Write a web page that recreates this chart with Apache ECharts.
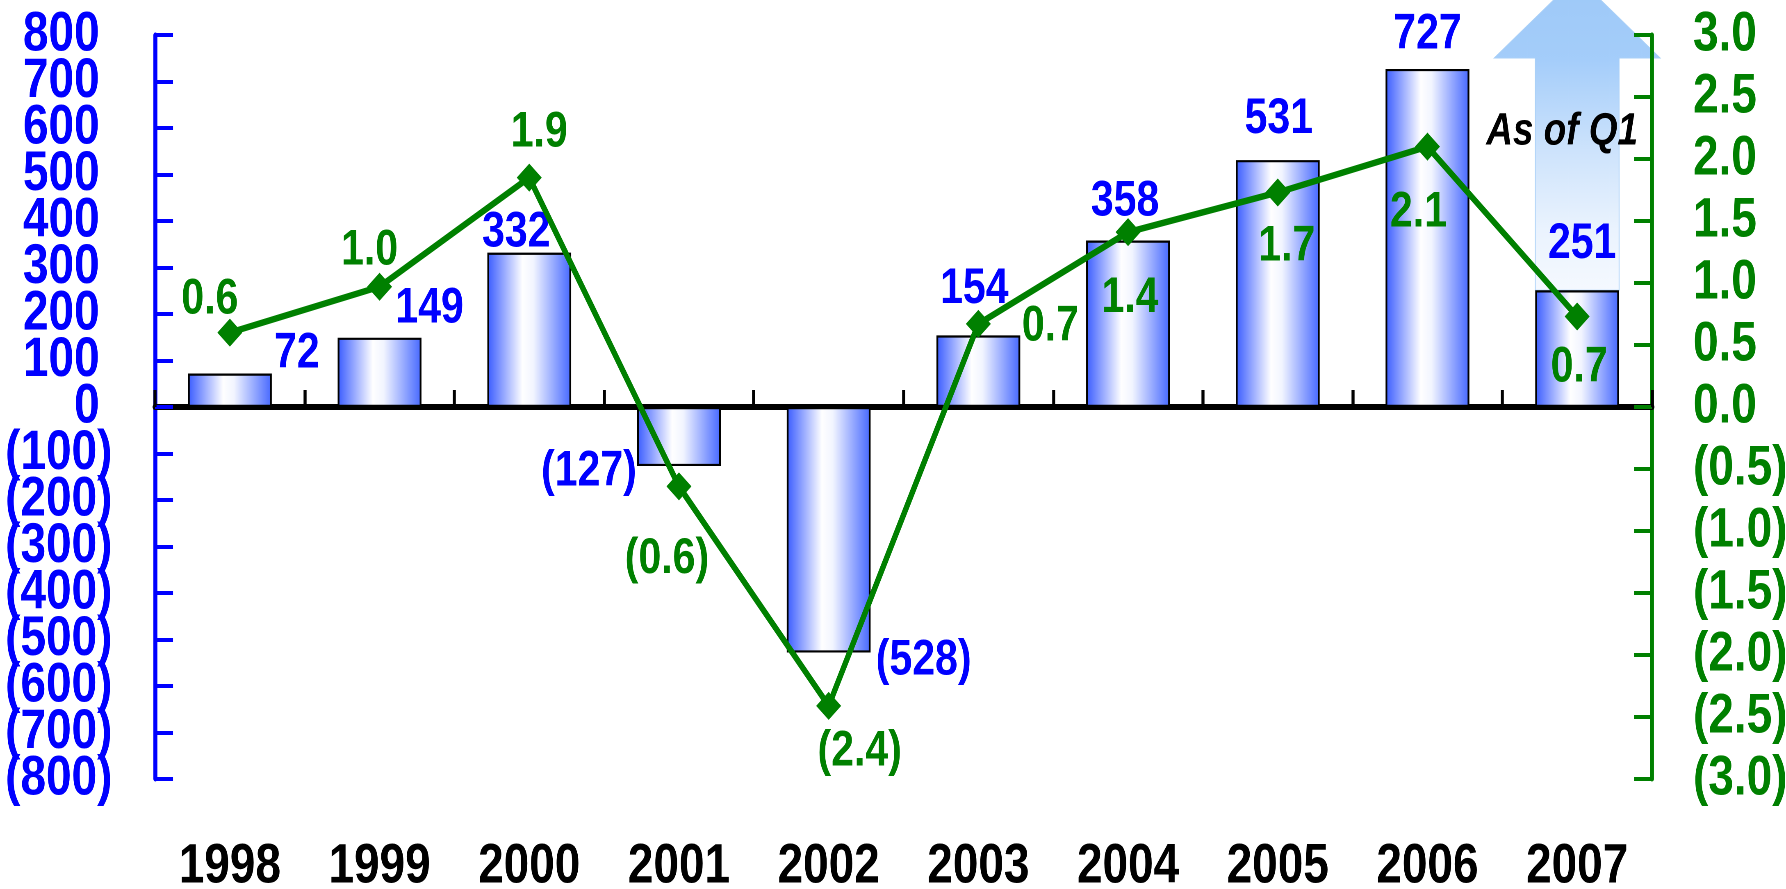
<!DOCTYPE html>
<html>
<head>
<meta charset="utf-8">
<script src="https://cdn.jsdelivr.net/npm/echarts@6/dist/echarts.min.js"></script>
<style>
  html, body { margin: 0; padding: 0; background: #fff; overflow: hidden; }
  #wrap { width: 1786px; height: 889px; overflow: hidden; }
  /* the chart is laid out wider and squeezed back, which gives the narrow bold lettering of the original */
  #main { width: 2178px; height: 889px; transform: scaleX(0.82002); transform-origin: 0 0; }
</style>
</head>
<body>
<div id="wrap"><div id="main"></div></div>
<script>
// data
var years = ['1998', '1999', '2000', '2001', '2002', '2003', '2004', '2005', '2006', '2007'];
var barValues = [72, 149, 332, -127, -528, 154, 358, 531, 727, 251];
var lineValues = [0.6, 0.97, 1.85, -0.64, -2.41, 0.67, 1.41, 1.73, 2.1, 0.73];
var leftRange = [-800, 800];
var rightRange = [-3, 3];

var SX = 0.82002;   // horizontal squeeze applied by css
var W = 2178, H = 889;
var FONT = "'Liberation Sans Narrow', 'Liberation Sans', Arial, sans-serif";
var BLUE = '#0000ff';
var GREEN = '#008000';

// label placement per point, in screen pixels (layout only)
var barLabelPlace = [
  ['top', [67, 5]], ['top', [50, -4]], ['top', [-13, 5]], ['inside', [-90, 35]], ['inside', [95, 131]],
  ['top', [-4, -21]], ['top', [-3, -14]], ['top', [1, -16]], ['top', [0, -9]], ['top', [5, -21]]
];
var lineLabelOffset = [
  [-20, -33], [-10, -36], [10, -45], [-12, 73], [31, 46],
  [72, 3], [2, 66], [9, 54], [-9, 66], [2, 51]
];

function px(o) { return [o[0] / SX, o[1]]; }
function paren(txt, neg) { return neg ? '(' + txt + ')' : txt; }
function leftLabel(v) { return v < 0 ? paren(-v, true) : v + ' '; }

var chart = echarts.init(document.getElementById('main'), null, { width: W, height: H, devicePixelRatio: 2 });

var barData = barValues.map(function (v, i) {
  return { value: v, label: { position: barLabelPlace[i][0], offset: px(barLabelPlace[i][1]) } };
});
var lineData = lineValues.map(function (v, i) {
  return { value: v, label: { offset: px(lineLabelOffset[i]) } };
});

var gridLeft = 155 / SX, gridRight = 134 / SX;

var leftLabelStyle = {
  color: BLUE, fontSize: 56, fontWeight: 'bold', fontFamily: FONT, margin: 52
};

var option = {
  backgroundColor: '#fff',
  animation: false,
  grid: { left: gridLeft, right: gridRight, top: 35, bottom: 110, containLabel: false, outerBoundsMode: 'none' },
  xAxis: [
    {
      type: 'category',
      data: years,
      position: 'top',
      axisLine: { onZero: true, onZeroAxisIndex: 0, lineStyle: { color: '#000', width: 6 } },
      axisTick: { show: true, inside: false, length: 17, lineStyle: { color: '#000', width: 3.7 } },
      axisLabel: { show: false },
      splitLine: { show: false }
    },
    {
      type: 'category',
      data: years,
      position: 'bottom',
      axisLine: { show: false, onZero: false },
      axisTick: { show: false },
      axisLabel: {
        interval: 0, color: '#000', fontSize: 56, fontWeight: 'bold', fontFamily: FONT, margin: 60
      },
      splitLine: { show: false }
    }
  ],
  yAxis: [
    // left scale, labels every 200 (incl. both ends)
    {
      type: 'value',
      position: 'left',
      min: leftRange[0], max: leftRange[1], interval: 200,
      splitLine: { show: false },
      axisLine: { show: true, lineStyle: { color: BLUE, width: 4.9 } },
      axisTick: { show: true, inside: true, length: 22, lineStyle: { color: BLUE, width: 4 } },
      axisLabel: Object.assign({ showMinLabel: true, showMaxLabel: true, formatter: leftLabel }, leftLabelStyle)
    },
    {
      type: 'value',
      position: 'right',
      min: rightRange[0], max: rightRange[1], interval: 0.5,
      splitLine: { show: false },
      axisLine: { show: true, lineStyle: { color: GREEN, width: 4.9 } },
      axisTick: { show: true, inside: true, length: 22, lineStyle: { color: GREEN, width: 4 } },
      axisLabel: {
        showMinLabel: true, showMaxLabel: true,
        color: GREEN, fontSize: 56, fontWeight: 'bold', fontFamily: FONT, margin: 50,
        formatter: function (v) { return paren(Math.abs(v).toFixed(1), v < 0); }
      }
    },
    // same left scale, filling in the odd hundreds and the in-between ticks
    {
      type: 'value',
      position: 'left',
      min: leftRange[0], max: leftRange[1], interval: 100,
      splitLine: { show: false },
      axisLine: { show: false },
      axisTick: { show: true, inside: true, length: 22, lineStyle: { color: BLUE, width: 4 } },
      axisLabel: Object.assign({
        showMinLabel: false, showMaxLabel: false,
        formatter: function (v) { return v % 200 === 0 ? '' : leftLabel(v); }
      }, leftLabelStyle)
    }
  ],
  series: [
    {
      type: 'bar',
      xAxisIndex: 0,
      yAxisIndex: 0,
      data: barData,
      barCategoryGap: '44%',
      itemStyle: {
        borderColor: '#000',
        borderWidth: 2.2,
        color: new echarts.graphic.LinearGradient(0, 0, 1, 0, [
          { offset: 0, color: '#3a5cff' },
          { offset: 0.42, color: '#ffffff' },
          { offset: 0.55, color: '#f2f5ff' },
          { offset: 1, color: '#4668ff' }
        ])
      },
      label: {
        show: true,
        distance: 0,
        color: BLUE, fontSize: 50, fontWeight: 'bold', fontFamily: FONT,
        formatter: function (p) { return paren(Math.abs(p.value), p.value < 0); }
      },
      z: 2
    },
    {
      type: 'line',
      xAxisIndex: 0,
      yAxisIndex: 1,
      data: lineData,
      symbol: 'diamond',
      symbolSize: [25 / SX, 28],
      lineStyle: { color: GREEN, width: 6.5 },
      itemStyle: { color: GREEN },
      label: {
        show: true,
        position: 'inside',
        color: GREEN, fontSize: 50, fontWeight: 'bold', fontFamily: FONT,
        formatter: function (p) {
          var r = Math.round(Math.abs(p.value) * 10) / 10;
          return paren(r.toFixed(1), p.value < 0);
        }
      },
      z: 4
    }
  ]
};

chart.setOption(option);

// "As of Q1" arrow behind the 2007 bar
var last = years.length - 1;
var top2007 = chart.convertToPixel({ seriesIndex: 0 }, [years[last], barValues[last]]);
var gridTopPx = chart.convertToPixel({ yAxisIndex: 0 }, leftRange[1]);
var catW = (W - gridLeft - gridRight) / years.length;
var barW = catW * 0.56;
var cx = top2007[0];
var x0 = cx - barW / 2, x1 = cx + barW / 2;
var headOut = 41 / SX;
var shaftTop = gridTopPx + 23;
var apexY = shaftTop - 81;

chart.setOption({
  graphic: [
    {
      type: 'polygon',
      z: -1,
      silent: true,
      shape: {
        points: [
          [x0, top2007[1]], [x0, shaftTop], [x0 - headOut, shaftTop], [cx, apexY],
          [x1 + headOut, shaftTop], [x1, shaftTop], [x1, top2007[1]]
        ]
      },
      style: {
        stroke: '#a9d0f8',
        lineWidth: 1,
        fill: new echarts.graphic.LinearGradient(0, 0, 0, 1, [
          { offset: 0, color: '#9ec9f8' },
          { offset: 0.26, color: '#a4cdfa' },
          { offset: 0.55, color: '#cde3fc' },
          { offset: 0.8, color: '#eaf3fe' },
          { offset: 1, color: '#f5f9ff' }
        ])
      }
    },
    {
      type: 'text',
      z: 10,
      silent: true,
      style: {
        text: 'As of Q1',
        x: cx - 15 / SX,
        y: shaftTop + 74,
        fill: '#000',
        fontSize: 45,
        fontWeight: 'bold',
        fontStyle: 'italic',
        fontFamily: 'Liberation Sans',
        align: 'center',
        verticalAlign: 'middle'
      }
    }
  ]
});
</script>
</body>
</html>
